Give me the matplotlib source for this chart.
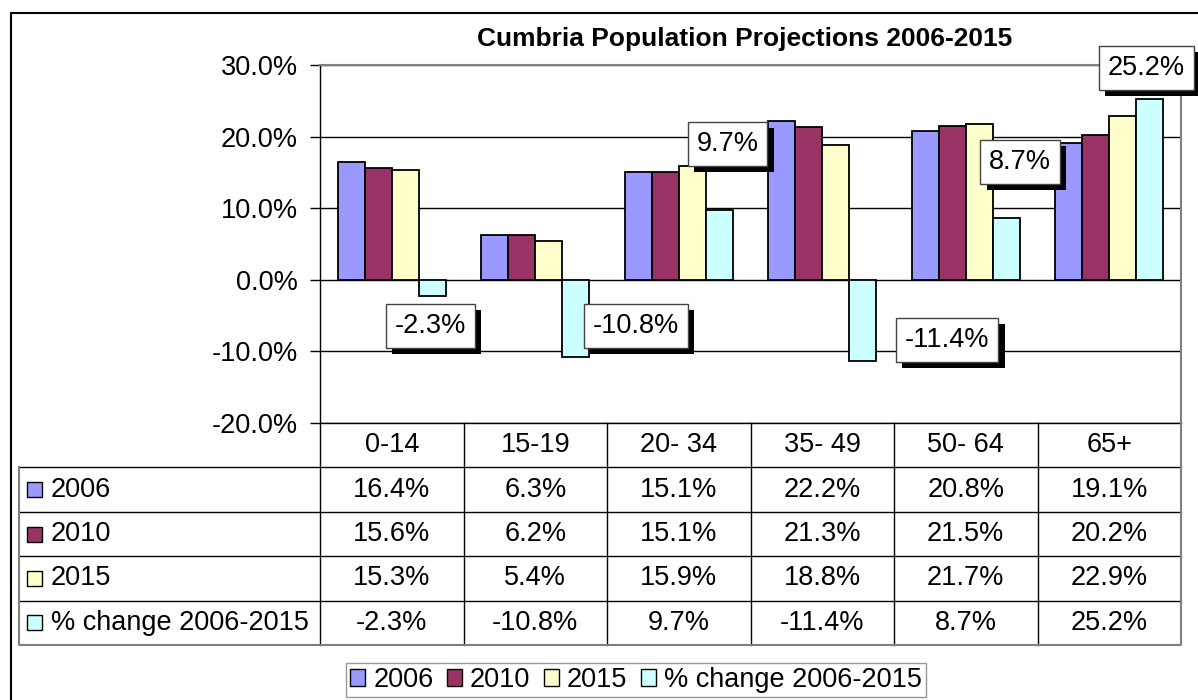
import matplotlib
matplotlib.use('Agg')
import matplotlib.pyplot as plt
import matplotlib.patheffects as pe
from matplotlib.patches import Rectangle
import numpy as np

plt.rcParams['font.family'] = ['Liberation Sans', 'DejaVu Sans']

# data (percent)
age_groups = ['0-14', '15-19', '20- 34', '35- 49', '50- 64', '65+']
series_names = ['2006', '2010', '2015', '% change 2006-2015']
pop_2006 = [16.4, 6.3, 15.1, 22.2, 20.8, 19.1]
pop_2010 = [15.6, 6.2, 15.1, 21.3, 21.5, 20.2]
pop_2015 = [15.3, 5.4, 15.9, 18.8, 21.7, 22.9]
change_06_15 = [-2.3, -10.8, 9.7, -11.4, 8.7, 25.2]
colors = ['#9999FF', '#993366', '#FFFFCC', '#CCFFFF']

# hand-placed data labels: x offset within category, y in percent
label_dx = [0.27, 0.70, 0.34, 0.87, 0.38, 0.26]
label_y = [-6.4, -6.4, 19.0, -8.4, 16.5, 29.6]

W, H = 1198, 700
FS = 19.5


def fx(px):
    return px / W


def fy(py):
    return 1 - py / H


fig = plt.figure(figsize=(W / 100, H / 100), dpi=100)

# outer chart border
fig.add_artist(Rectangle((fx(11), -0.1), 1, fy(13) + 0.1, transform=fig.transFigure,
                         fill=False, ec='black', lw=1.5))

# main bar axes
ax = fig.add_axes([fx(320), fy(423), fx(1181) - fx(320), fy(65) - fy(423)])
all_series = [pop_2006, pop_2010, pop_2015, change_06_15]
x = np.arange(len(age_groups))
w = 0.1875
for i, vals in enumerate(all_series):
    ax.bar(x + (i - 1.5) * w, vals, w, color=colors[i], edgecolor='black', lw=1.3, zorder=3)

ax.set_xlim(-0.5, len(age_groups) - 0.5)
ax.set_ylim(-20, 30)
ax.set_yticks([-20, -10, 0, 10, 20, 30])
ax.set_yticklabels([f'{v:.1f}%' for v in [-20, -10, 0, 10, 20, 30]])
ax.set_xticks([])
ax.tick_params(axis='y', direction='out', length=7, width=1, pad=9, labelsize=FS)
ax.yaxis.grid(True, color='black', lw=1)
ax.set_axisbelow(True)
for side in ['top', 'right']:
    ax.spines[side].set_color('#808080')
    ax.spines[side].set_linewidth(1.5)
ax.spines['left'].set_linewidth(1)
ax.spines['bottom'].set_linewidth(1)

# data labels with drop shadow
for i, v in enumerate(change_06_15):
    t = ax.text(i + label_dx[i], label_y[i], f'{v:.1f}%', ha='center', va='center',
                fontsize=FS, zorder=6,
                bbox=dict(boxstyle='square,pad=0.33', fc='white', ec='#444444', lw=1))
    t.get_bbox_patch().set_path_effects([
        pe.SimplePatchShadow(offset=(4.5, -4.5), shadow_rgbFace='black', alpha=1.0),
        pe.Normal()])

# title
fig.text(fx(745), fy(39), 'Cumbria Population Projections 2006-2015', ha='center', va='center',
         fontsize=19, fontweight='bold')

# data table underneath
left_units = (320 - 19) / 143.5
x0 = -0.5 - left_units
x1 = len(age_groups) - 0.5
tax = fig.add_axes([fx(19), fy(645), fx(1181) - fx(19), fy(423) - fy(645)])
tax.set_xlim(x0, x1)
tax.set_ylim(5, 0)
tax.axis('off')

for r in range(1, 5):
    tax.plot([x0, x1], [r, r], color='black', lw=1, clip_on=False)
for c in np.arange(-0.5, len(age_groups) - 0.5, 1.0):
    tax.plot([c, c], [0, 5], color='black', lw=1, clip_on=False)
tax.plot([x0, x0, x1, x1], [1, 5, 5, 0], color='#808080', lw=1.5, clip_on=False)

for i, g in enumerate(age_groups):
    tax.text(i, 0.5, g, ha='center', va='center', fontsize=FS)
for r, vals in enumerate(all_series):
    for i, v in enumerate(vals):
        tax.text(i, r + 1.5, f'{v:.1f}%', ha='center', va='center', fontsize=FS)
    sq_w = 15 / 143.5
    sq_h = 15 / 44.4
    tax.add_patch(Rectangle((x0 + 8 / 143.5, r + 1.5 - sq_h / 2), sq_w, sq_h,
                            fc=colors[r], ec='black', lw=1, clip_on=False))
    tax.text(x0 + 32 / 143.5, r + 1.5, series_names[r], ha='left', va='center', fontsize=FS)

# legend
handles = [Rectangle((0, 0), 1, 1, fc=c, ec='black', lw=1) for c in colors]
leg = fig.legend(handles, series_names, loc='center', bbox_to_anchor=(fx(636), fy(680)),
                 ncol=4, fontsize=FS, handlelength=0.55, handleheight=0.55, handletextpad=0.3,
                 columnspacing=0.5, frameon=True, fancybox=False, edgecolor='#808080',
                 borderpad=0.15, borderaxespad=0)
leg.get_frame().set_linewidth(1)

fig.savefig('out.png', dpi=100)
